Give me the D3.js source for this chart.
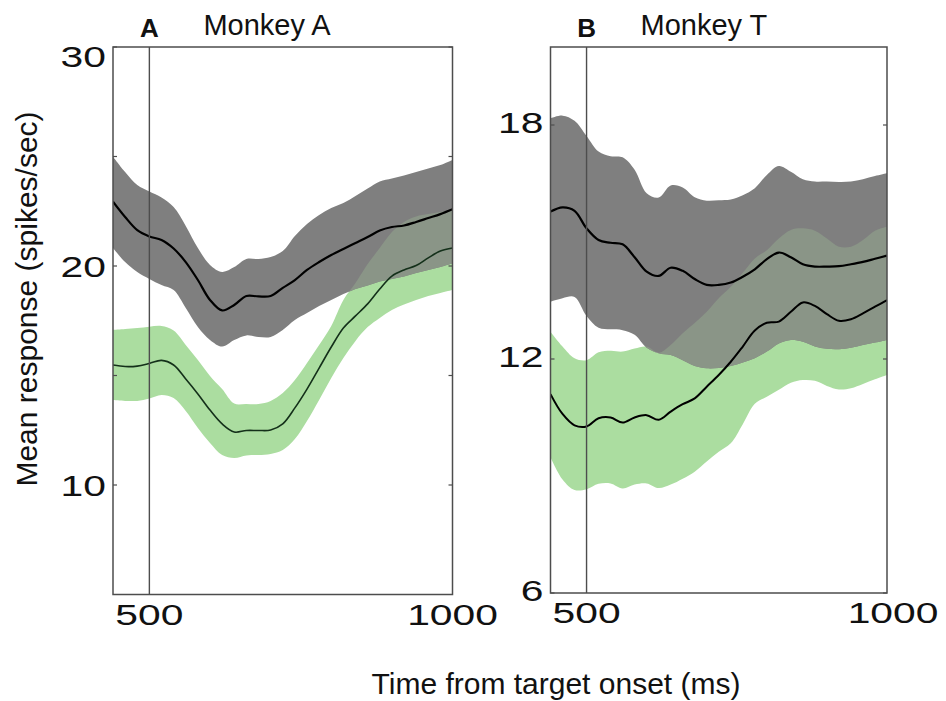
<!DOCTYPE html>
<html>
<head>
<meta charset="utf-8">
<script src="https://cdn.jsdelivr.net/npm/d3@7"></script>
<style>
  body { margin: 0; background: #fff; }
  svg { display: block; }
  text { font-family: "Liberation Sans", Arial, Helvetica, sans-serif; fill: #111; }
</style>
</head>
<body>
<svg id="chart" width="946" height="701"></svg>
<script>
// Time axis (ms from target onset), shared by both monkeys
const time = [440, 460, 480, 500, 520, 540, 560, 580, 600, 620, 640, 660, 680, 700, 720,
              740, 760, 780, 800, 820, 840, 860, 880, 900, 920, 940, 960, 980, 1000];

// Monkey A — gray condition (mean and band edges, spikes/sec)
const aGrayMean = [22.94, 22.24, 21.64, 21.35, 21.19, 20.80, 20.18, 19.36, 18.45, 17.97, 18.22, 18.63, 18.61, 18.63, 19.00,
                   19.36, 19.82, 20.18, 20.50, 20.78, 21.05, 21.32, 21.62, 21.78, 21.85, 22.01, 22.19, 22.37, 22.59];
const aGrayHi   = [24.99, 24.29, 23.70, 23.40, 23.13, 22.69, 21.83, 20.82, 20.05, 19.73, 19.95, 20.32, 20.32, 20.41, 20.68,
                   21.37, 21.92, 22.33, 22.65, 22.88, 23.20, 23.54, 23.86, 24.00, 24.13, 24.29, 24.45, 24.61, 24.84];
const aGrayLo   = [20.82, 20.18, 19.73, 19.41, 19.13, 18.90, 18.08, 17.21, 16.62, 16.32, 16.62, 16.83, 16.76, 16.76, 17.08,
                   17.53, 17.85, 18.17, 18.45, 18.72, 18.95, 19.11, 19.29, 19.41, 19.52, 19.68, 19.82, 19.95, 20.12];

// Monkey A — green condition
const aGreenMean = [15.48, 15.41, 15.43, 15.55, 15.69, 15.48, 14.84, 14.16, 13.42, 12.79, 12.42, 12.49, 12.49, 12.51, 12.79,
                    13.52, 14.38, 15.34, 16.30, 17.17, 17.72, 18.27, 18.95, 19.54, 19.82, 20.02, 20.37, 20.68, 20.82];
const aGreenHi   = [17.08, 17.12, 17.17, 17.23, 17.26, 17.05, 16.39, 15.71, 14.98, 14.38, 13.72, 13.70, 13.70, 13.84, 14.20,
                    14.79, 15.57, 16.39, 17.26, 18.45, 19.22, 20.09, 20.82, 21.55, 22.01, 22.26, 22.37, 22.47, 22.51];
const aGreenLo   = [13.88, 13.84, 13.84, 13.95, 14.11, 13.97, 13.38, 12.60, 11.92, 11.37, 11.23, 11.35, 11.37, 11.42, 11.60,
                    12.10, 12.92, 13.88, 14.89, 15.80, 16.58, 17.21, 17.63, 17.99, 18.24, 18.45, 18.63, 18.77, 18.90];

// Monkey T — gray condition
const tGrayMean = [15.78, 15.89, 15.80, 15.35, 15.05, 14.98, 14.94, 14.61, 14.24, 14.13, 14.34, 14.26, 14.05, 13.90, 13.90,
                   13.96, 14.11, 14.30, 14.56, 14.73, 14.61, 14.43, 14.37, 14.37, 14.38, 14.43, 14.49, 14.57, 14.65];
const tGrayHi   = [18.17, 18.24, 18.11, 17.72, 17.32, 17.20, 17.17, 16.85, 16.25, 16.14, 16.45, 16.40, 16.15, 16.06, 16.07,
                   16.09, 16.20, 16.38, 16.72, 16.95, 16.80, 16.61, 16.55, 16.55, 16.54, 16.55, 16.61, 16.69, 16.76];
const tGrayLo   = [13.47, 13.56, 13.59, 13.10, 12.80, 12.76, 12.74, 12.62, 12.29, 12.15, 12.10, 11.97, 11.82, 11.76, 11.77,
                   11.82, 11.91, 12.02, 12.19, 12.40, 12.49, 12.44, 12.32, 12.26, 12.25, 12.29, 12.36, 12.42, 12.49];

// Monkey T — green condition
const tGreenMean = [11.10, 10.59, 10.30, 10.27, 10.48, 10.50, 10.37, 10.50, 10.56, 10.44, 10.65, 10.84, 10.99, 11.29, 11.59,
                    11.93, 12.32, 12.73, 12.93, 12.96, 13.21, 13.45, 13.36, 13.15, 12.98, 13.02, 13.17, 13.34, 13.51];
const tGreenHi   = [12.70, 12.32, 12.02, 11.97, 12.17, 12.21, 12.19, 12.27, 12.32, 12.16, 12.36, 12.66, 12.92, 13.21, 13.56,
                    13.85, 14.21, 14.58, 14.79, 15.09, 15.31, 15.35, 15.29, 15.09, 14.88, 14.88, 15.05, 15.29, 15.39];
const tGreenLo   = [9.48, 8.91, 8.64, 8.66, 8.80, 8.81, 8.68, 8.78, 8.81, 8.69, 8.78, 8.93, 9.11, 9.37, 9.62,
                    9.84, 10.33, 10.85, 11.03, 11.21, 11.39, 11.46, 11.44, 11.31, 11.22, 11.25, 11.36, 11.48, 11.59];

// Axis ticks
const xDomain = [440, 1000];
const xTickLabels = [500, 1000];
const markerTime = 500;
const aYTicks = [10, 15, 20, 25, 30];
const aYLabels = [10, 20, 30];
const tYTicks = [6, 12, 18];
const tYLabels = [6, 12, 18];

const COLORS = {
  gray: "#7f7f7f",
  green: "#abdda0",
  overlap: "#8a9587",
  frame: "#4d4d4d"
};

const panels = [
  {
    key: "A", title: "Monkey A",
    box: { l: 113, r: 452.5, t: 47, b: 594.5 },
    yDomain: [5, 30], yTicks: aYTicks, yLabels: aYLabels,
    gray: { mean: aGrayMean, lo: aGrayLo, hi: aGrayHi },
    green: { mean: aGreenMean, lo: aGreenLo, hi: aGreenHi },
    greenLine: { color: "#14301a", width: 1.6 },
    labelYOffset: [0, 0, 4]
  },
  {
    key: "B", title: "Monkey T",
    box: { l: 550.5, r: 887, t: 47, b: 593 },
    yDomain: [6, 20], yTicks: tYTicks, yLabels: tYLabels,
    gray: { mean: tGrayMean, lo: tGrayLo, hi: tGrayHi },
    green: { mean: tGreenMean, lo: tGreenLo, hi: tGreenHi },
    greenLine: { color: "#000", width: 2 },
    labelYOffset: [-3, -3, -3]
  }
];

const svg = d3.select("#chart");
const defs = svg.append("defs");

const TICK_FONT = 30;
const TICK_STRETCH = 1.36;

panels.forEach((p, pi) => {
  const x = d3.scaleLinear().domain(xDomain).range([p.box.l, p.box.r]);
  const y = d3.scaleLinear().domain(p.yDomain).range([p.box.b, p.box.t]);
  const g = svg.append("g");

  const rows = key => time.map((t, i) => ({ t, mean: p[key].mean[i], lo: p[key].lo[i], hi: p[key].hi[i] }));
  const grayRows = rows("gray");
  const greenRows = rows("green");

  const curve = d3.curveCatmullRom.alpha(0.5);
  const band = d3.area().curve(curve).x(d => x(d.t)).y0(d => y(d.lo)).y1(d => y(d.hi));
  const line = d3.line().curve(curve).x(d => x(d.t)).y(d => y(d.mean));

  const clipId = "panel-clip-" + pi;
  defs.append("clipPath").attr("id", clipId)
    .append("rect").attr("x", p.box.l).attr("y", p.box.t)
    .attr("width", p.box.r - p.box.l).attr("height", p.box.b - p.box.t);
  const grayClipId = "gray-band-" + pi;
  defs.append("clipPath").attr("id", grayClipId)
    .append("path").attr("d", band(grayRows));

  const plot = g.append("g").attr("clip-path", `url(#${clipId})`);

  // bands: green, gray, and the region where they overlap
  plot.append("path").attr("d", band(greenRows)).attr("fill", COLORS.green);
  plot.append("path").attr("d", band(grayRows)).attr("fill", COLORS.gray);
  plot.append("g").attr("clip-path", `url(#${grayClipId})`)
    .append("path").attr("d", band(greenRows)).attr("fill", COLORS.overlap);

  // mean traces
  plot.append("path").attr("d", line(greenRows)).attr("fill", "none")
    .attr("stroke", p.greenLine.color).attr("stroke-width", p.greenLine.width);
  plot.append("path").attr("d", line(grayRows)).attr("fill", "none")
    .attr("stroke", "#000").attr("stroke-width", 2.2);

  // target-onset reference line
  g.append("line")
    .attr("x1", x(markerTime)).attr("x2", x(markerTime))
    .attr("y1", p.box.t).attr("y2", p.box.b)
    .attr("stroke", COLORS.frame).attr("stroke-width", 1.4);

  // frame
  g.append("rect")
    .attr("x", p.box.l).attr("y", p.box.t)
    .attr("width", p.box.r - p.box.l).attr("height", p.box.b - p.box.t)
    .attr("fill", "none").attr("stroke", COLORS.frame).attr("stroke-width", 1.5);

  // inward y ticks on both sides
  p.yTicks.forEach(v => {
    [[p.box.l, p.box.l + 4], [p.box.r, p.box.r - 4]].forEach(([a, b]) => {
      g.append("line").attr("x1", a).attr("x2", b)
        .attr("y1", y(v)).attr("y2", y(v))
        .attr("stroke", COLORS.frame).attr("stroke-width", 1.2);
    });
  });

  // y tick labels (horizontally stretched digits)
  p.yLabels.forEach((v, i) => {
    const ty = Math.min(Math.max(y(v), p.box.t + 5), p.box.b) + p.labelYOffset[i];
    g.append("text")
      .attr("transform", `translate(${p.box.l - 7},${ty}) scale(${TICK_STRETCH},1)`)
      .attr("text-anchor", "end").attr("dy", "0.36em")
      .attr("font-size", TICK_FONT)
      .text(v);
  });

  // x tick labels
  xTickLabels.forEach(v => {
    g.append("text")
      .attr("transform", `translate(${x(v) + (v === 1000 && pi === 1 ? 6 : 0)},${p.box.b + 30}) scale(${TICK_STRETCH},1)`)
      .attr("text-anchor", "middle")
      .attr("font-size", TICK_FONT)
      .text(v);
  });

  // panel letter and title
  g.append("text")
    .attr("x", x(markerTime)).attr("y", 37)
    .attr("text-anchor", "middle")
    .attr("font-size", 26).attr("font-weight", "bold")
    .text(p.key);
  g.append("text")
    .attr("x", x(markerTime) + 54).attr("y", 35)
    .attr("font-size", 29)
    .text(p.title);
});

// shared axis titles
svg.append("text")
  .attr("transform", "translate(37,299) rotate(-90)")
  .attr("text-anchor", "middle")
  .attr("font-size", 30)
  .text("Mean response (spikes/sec)");

svg.append("text")
  .attr("x", 556).attr("y", 694)
  .attr("text-anchor", "middle")
  .attr("font-size", 30)
  .text("Time from target onset (ms)");
</script>
</body>
</html>
